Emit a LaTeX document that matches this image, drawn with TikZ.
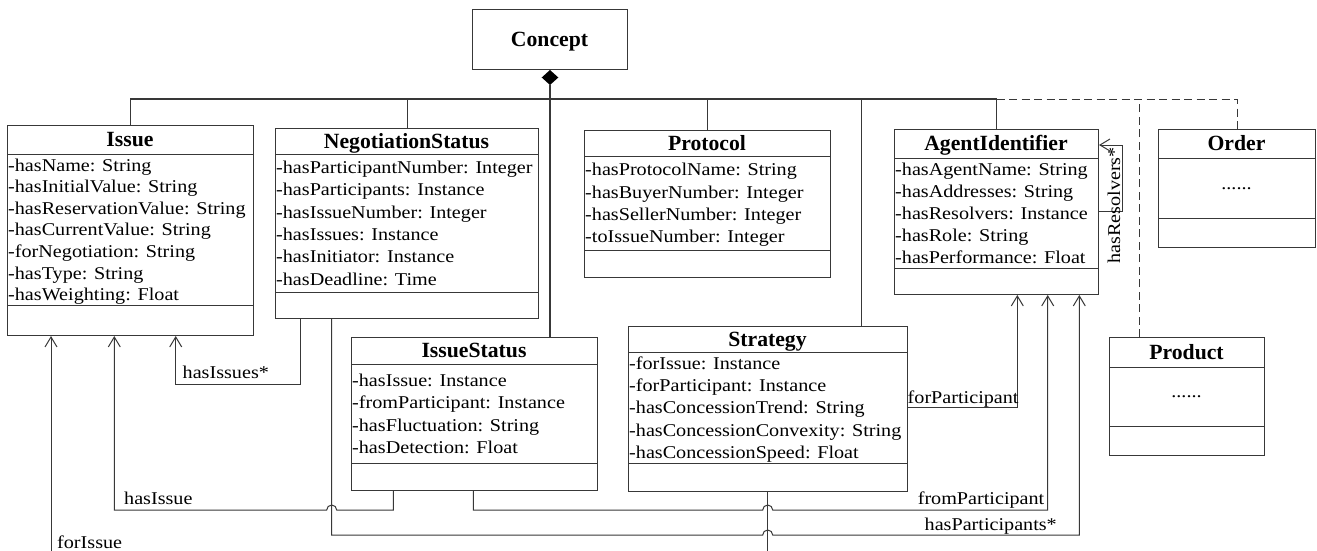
\documentclass[tikz,border=0pt]{standalone}
\usepackage{fontspec}
\setmainfont{Liberation Serif}
\newfontfamily\attrfont{Liberation Serif}[FakeStretch=1.12]
\usetikzlibrary{arrows.meta,calc}
\definecolor{ln}{gray}{0.22}
\newcommand\umlbox[8]{%
  \node[box, minimum width={#3-#2}, minimum height={#7-#4}] (#1) at (#2,#4) {};
  \draw[conn] (#2,#5) -- (#3,#5);
  \draw[conn] (#2,#6) -- (#3,#6);
  \node[ttl] (#1-t) at ({(#2+#3)/2},{(#4+#5)/2}) {#8};
}
\newcommand\umlattrs[5]{%
  \foreach \t [count=\i] in {#5}{
    \node[attr] (#1-a\i) at ({#2+1},{#3+(\i-1)*#4}) {\t};
  }
}
\begin{document}
\begin{tikzpicture}[x=1pt,y=-1pt,
  box/.style={draw=ln, line width=1pt, inner sep=0pt, anchor=north west},
  ttl/.style={font=\fontsize{21.7}{24}\selectfont\bfseries, inner sep=0pt, text height=14.7pt, text depth=0pt},
  attr/.style={font=\attrfont\fontsize{18}{22}\selectfont, inner sep=0pt, text height=12.6pt, text depth=0pt, anchor=west},
  lbl/.style={font=\attrfont\fontsize{18}{22}\selectfont, inner sep=0pt, text height=12.6pt, text depth=0pt},
  conn/.style={draw=ln, line width=1pt},
  assoc/.style={conn, -{Straight Barb[length=10pt,width=12pt,line width=1pt]}},
  dsh/.style={conn, dash pattern=on 8pt off 4.5pt}]
\useasboundingbox (0,0) rectangle (1317,551);
\clip (0,0) rectangle (1317,551);
\fill[white] (0,0) rectangle (1317,551);

% Concept
\node[box, minimum width=155, minimum height=60] (concept) at (472,9) {};
\node[ttl] (concept-t) at (549.5,39) {Concept};

% classes
\umlbox{issue}{7}{253}{125}{154}{305}{335}{Issue}
\umlattrs{issue}{7}{164.7}{21.6}{-hasName: String,-hasInitialValue: String,-hasReservationValue: String,-hasCurrentValue: String,-forNegotiation: String,-hasType: String,-hasWeighting: Float}

\umlbox{negst}{275}{538}{128}{154}{292}{318}{NegotiationStatus}
\umlattrs{negst}{275}{167}{22.4}{-hasParticipantNumber: Integer,-hasParticipants: Instance,-hasIssueNumber: Integer,-hasIssues: Instance,-hasInitiator: Instance,-hasDeadline: Time}

\umlbox{proto}{584}{830}{130}{156}{250}{277}{Protocol}
\umlattrs{proto}{584}{169.4}{22.4}{-hasProtocolName: String,-hasBuyerNumber: Integer,-hasSellerNumber: Integer,-toIssueNumber: Integer}

\umlbox{agent}{894}{1098}{129}{158}{268}{294}{AgentIdentifier}
\umlattrs{agent}{894}{169}{22}{-hasAgentName: String,-hasAddresses: String,-hasResolvers: Instance,-hasRole: String,-hasPerformance: Float}

\umlbox{order}{1158}{1315}{129}{158}{218}{247}{Order}
\node[lbl, anchor=base] (order-a1) at (1236.5,189) {......};

\umlbox{isst}{351}{597}{337}{364}{463}{490}{IssueStatus}
\umlattrs{isst}{351}{379.9}{22.4}{-hasIssue: Instance,-fromParticipant: Instance,-hasFluctuation: String,-hasDetection: Float}

\umlbox{strat}{628}{907}{326}{352}{463}{491}{Strategy}
\umlattrs{strat}{628}{363.1}{22.2}{-forIssue: Instance,-forParticipant: Instance,-hasConcessionTrend: String,-hasConcessionConvexity: String,-hasConcessionSpeed: Float}

\umlbox{product}{1109}{1264}{337}{367}{426}{455}{Product}
\node[lbl, anchor=base] (product-a1) at (1186.5,397) {......};

% composition tree
\coordinate (bus) at (550,99);
\fill[black] (concept.south) -- ++(8.3,7.5) -- ++(-8.3,7.5) -- ++(-8.3,-7.5) -- cycle;
\coordinate (dia) at ([yshift=-15pt]concept.south);
\coordinate (isttop) at ([xshift=199pt]isst.north west);
\coordinate (strtop) at ([xshift=233.7pt]strat.north west);
\coordinate (prodtop) at ([xshift=30.3pt]product.north west);
\draw[conn, line width=1.3pt] (issue.north) |- (bus) -| (agent.north);
\draw[conn, line width=1.2pt] (dia) -- (isttop);
\draw[conn] (negst.north) -- (negst.north |- bus);
\draw[conn] (proto.north) -- (proto.north |- bus);
\draw[conn] (strtop) -- (strtop |- bus);
\draw[dsh] (agent.north |- bus) -| (order.north);
\draw[dsh] (prodtop) -- (prodtop |- bus);

% associations
\draw[assoc] ([xshift=25pt]negst.south west) -- ++(0,65.3) -| ([xshift=168.7pt]issue.south west);
\draw[assoc] ([xshift=42.3pt]isst.south west) |- (336.7,510) arc[start angle=0,end angle=180,radius=5pt] -| ([xshift=107.3pt]issue.south west);
\draw[assoc] ([xshift=122.3pt]isst.south west) |- (762.7,510) arc[start angle=180,end angle=0,radius=5pt] -| ([xshift=153.7pt]agent.south west);
\draw[assoc] ([xshift=56.7pt]negst.south west) |- (762.7,535) arc[start angle=180,end angle=0,radius=5pt] -| ([xshift=185.3pt]agent.south west);
\draw[assoc] ([xshift=139.7pt]strat.south west) -- ++(0,80) -| ([xshift=44pt]issue.south west);
\draw[assoc] ([yshift=-81.3pt]strat.north east) -| ([xshift=123.3pt]agent.south west);
\draw[assoc] ([yshift=-82.7pt]agent.north east) -- ++(23.7,0) |- ([yshift=-16pt]agent.north east);

% labels
\node[lbl, anchor=west] (l-hasissues) at (182.5,372) {hasIssues*};
\node[lbl, anchor=west] (l-hasissue) at (124,498.5) {hasIssue};
\node[lbl, anchor=west] (l-forissue) at (57,541.7) {forIssue};
\node[lbl, anchor=west] (l-forpart) at (907.5,397) {forParticipant};
\node[lbl, anchor=east] (l-frompart) at (1044.5,498.5) {fromParticipant};
\node[lbl, anchor=east] (l-haspart) at (1057,524) {hasParticipants*};
\node[lbl, rotate=90, anchor=base east] (l-hasres) at (1120,147) {hasResolvers*};
\end{tikzpicture}
\end{document}
